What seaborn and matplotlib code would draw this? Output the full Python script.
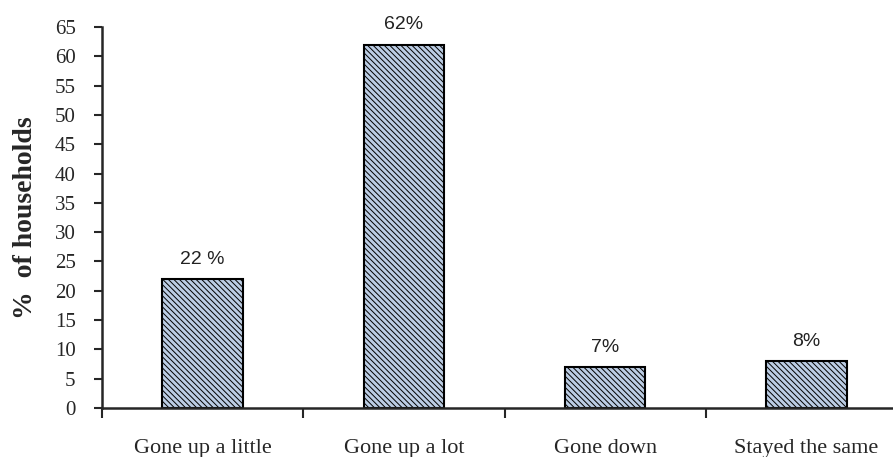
import matplotlib
matplotlib.use("Agg")
import matplotlib.pyplot as plt
import seaborn as sns

categories = ["Gone up a little", "Gone up a lot", "Gone down", "Stayed the same"]
values = [22, 62, 7, 8]
value_labels = ["22 %", "62%", "7%", "8%"]
y_ticks = list(range(0, 70, 5))

sns.set_theme(style="ticks")
plt.rcParams["font.family"] = ["Liberation Serif", "DejaVu Serif"]
plt.rcParams["hatch.linewidth"] = 0.7
plt.rcParams["hatch.color"] = "black"

fig = plt.figure(figsize=(8.93, 4.57), dpi=100)
ax = fig.add_axes([102 / 893, 1 - 408 / 457, 1 - 102 / 893, (408 - 27) / 457])

sns.barplot(x=categories, y=values, color="#bccde4", width=0.4,
            edgecolor="black", linewidth=1.5, saturation=1, ax=ax)
for bar in ax.patches:
    bar.set_hatch("\\\\\\\\\\\\")

for i, (v, lab) in enumerate(zip(values, value_labels)):
    ax.annotate(lab, (i, v), xytext=(0, 8), textcoords="offset points",
                ha="center", va="bottom", fontsize=14,
                family=["Liberation Sans", "DejaVu Sans"], color="#222222")

ax.set_ylim(0, 65)
ax.set_xlim(-0.5, 3.43)
ax.set_yticks(y_ticks)
ax.set_yticklabels([str(t) for t in y_ticks], fontsize=15)
ax.set_xticks([-0.5, 0.5, 1.5, 2.5])
ax.set_xticklabels([])
ax.set_xticks(range(len(categories)), minor=True)
ax.set_xticklabels(categories, minor=True, fontsize=16)
ax.tick_params(axis="x", which="minor", length=0, pad=22)
ax.tick_params(axis="x", which="major", length=7, width=1.5, direction="out")
ax.tick_params(axis="y", length=6, width=1.5, direction="out", pad=13)

ax.set_ylabel("%  of households", fontsize=20, fontweight="bold", labelpad=12)
ax.set_xlabel("")
sns.despine(ax=ax, top=True, right=True)
ax.spines["left"].set_linewidth(1.8)
ax.spines["bottom"].set_linewidth(1.8)

fig.savefig("out.png", dpi=100)
